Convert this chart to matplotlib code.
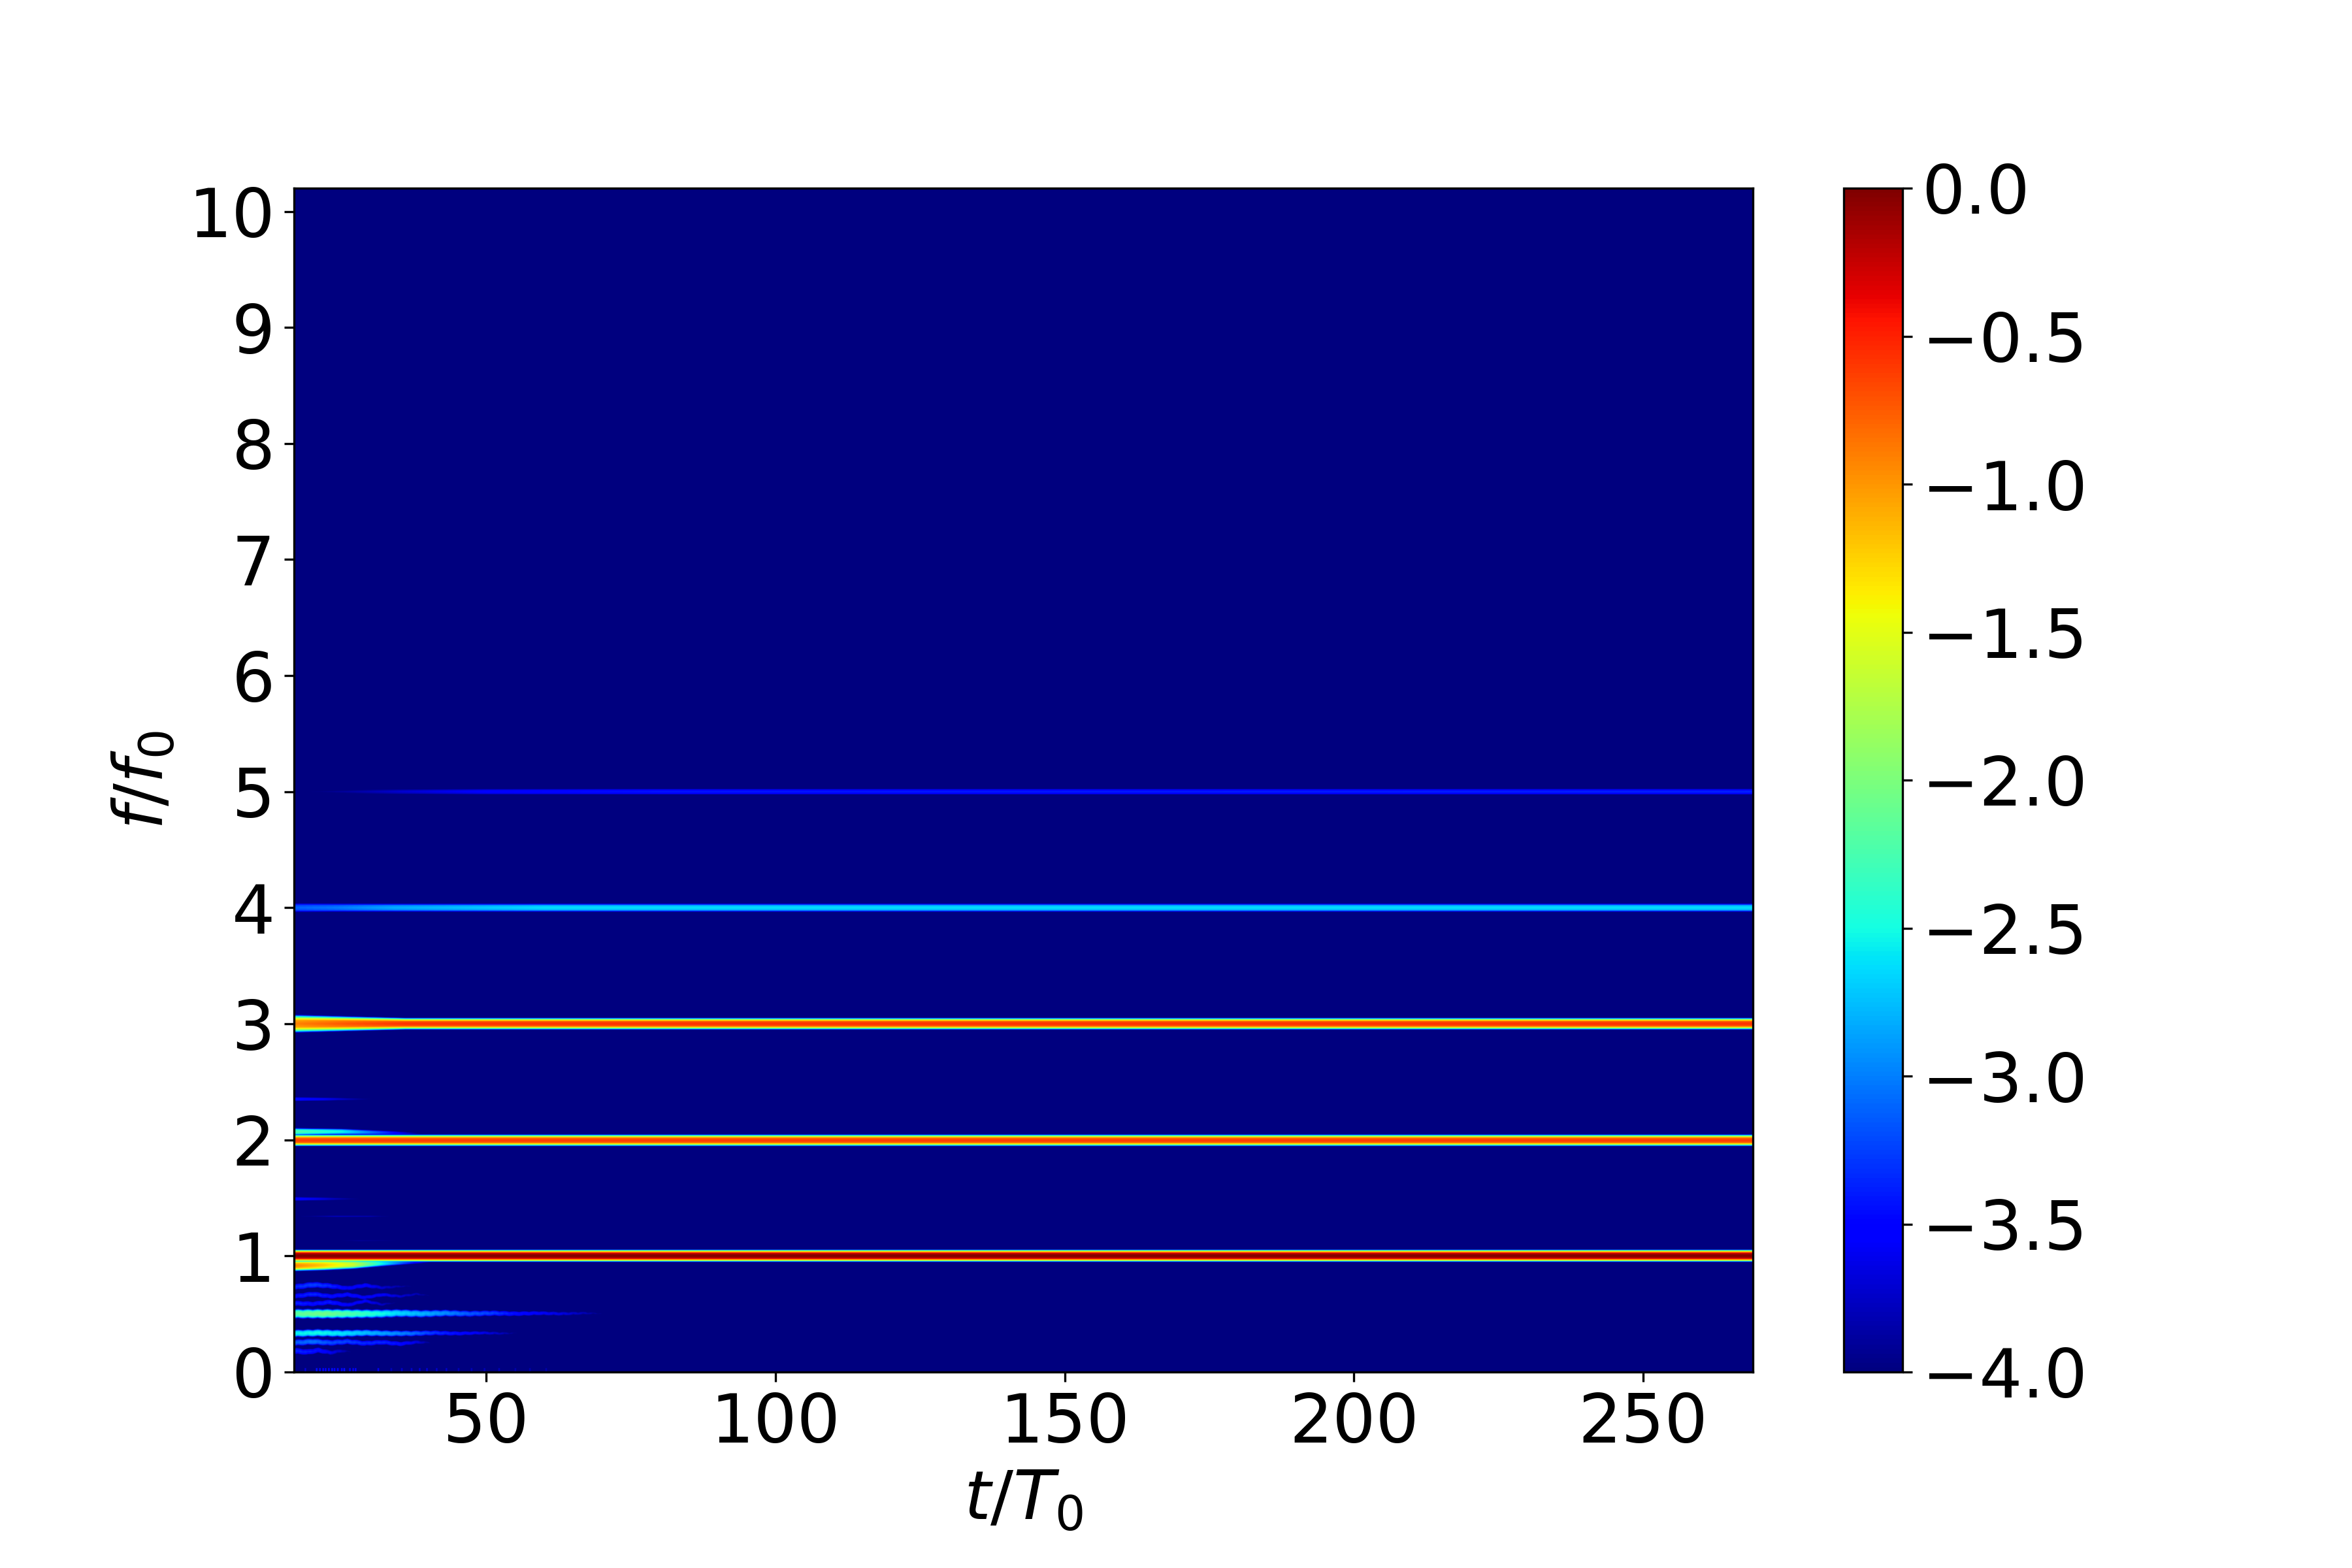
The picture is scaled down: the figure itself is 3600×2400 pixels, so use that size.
import numpy as np
import matplotlib
matplotlib.use("Agg")
import matplotlib.pyplot as plt

# Axis ranges and ticks
t_range = [16.8, 269.0]
f_range = [0.0, 10.2]
level_floor = -4.0
x_ticks = [50, 100, 150, 200, 250]
y_ticks = [0, 1, 2, 3, 4, 5, 6, 7, 8, 9, 10]
bar_ticks = [-4.0, -3.5, -3.0, -2.5, -2.0, -1.5, -1.0, -0.5, 0.0]

# Shared cross-ridge profile: offset in f/f0 against drop in log level
profile_df = [0.0, 0.017, 0.0206, 0.030, 0.039, 0.045, 0.049, 0.053, 0.070]
profile_drop = [0.0, 0.15, 0.25, 0.8, 1.6, 2.3, 3.0, 3.8, 6.0]

# Beaded texture of the sub-harmonic bands: one repeat
ripple_period = 1.7
ripple_phase = [0.0, 0.25, 0.5, 0.75, 1.0]
ripple_df = [0.0, 0.003, 0.0, -0.003, 0.0]
ripple_dl = [0.0, -0.05, 0.0, -0.05, 0.0]

# Steady harmonics: t knots, centre f, log level, width factor
h1_t = [16.8, 269]; h1_f = [1.0, 1.0]; h1_l = [0.0, 0.0]; h1_w = [1.02, 1.02]
h2_t = [16.8, 269]; h2_f = [1.995, 1.995]; h2_l = [-0.6, -0.6]; h2_w = [1.02, 1.02]
h3_t = [16.8, 26, 36, 269]; h3_f = [3.0, 3.0, 3.0, 3.0]; h3_l = [-0.9, -0.7, -0.55, -0.55]; h3_w = [1.6, 1.3, 1.02, 1.02]
h4_t = [16.8, 24, 34, 60, 269]; h4_f = [4.0] * 5; h4_l = [-3.1, -3.0, -2.8, -2.6, -2.6]; h4_w = [1.25, 1.15, 1.05, 1.0, 1.0]
h5_t = [19, 24, 35, 50, 80, 269]; h5_f = [5.0] * 6; h5_l = [-4.0, -3.9, -3.7, -3.5, -3.4, -3.35]; h5_w = [0.95, 0.95, 0.95, 0.95, 0.95, 0.95]

# Early-time shoulders
s1_t = [16.8, 22, 27, 32, 37, 41]; s1_f = [0.915, 0.92, 0.925, 0.935, 0.945, 0.95]
s1_l = [-0.9, -1.2, -1.6, -2.5, -3.3, -4.0]; s1_w = [1.0, 1.0, 0.9, 0.75, 0.6, 0.5]
s2_t = [16.8, 25, 33, 39]; s2_f = [2.07, 2.07, 2.06, 2.05]
s2_l = [-2.2, -2.5, -3.3, -4.0]; s2_w = [0.8, 0.7, 0.6, 0.5]

# Sub-harmonic side bands
b50_t = [16.8, 22, 27, 31, 35, 39, 43, 47, 51, 55, 59, 63, 67, 71]
b50_f = [0.50, 0.50, 0.50, 0.50, 0.505, 0.50, 0.505, 0.50, 0.505, 0.50, 0.505, 0.50, 0.505, 0.50]
b50_l = [-2.1, -2.0, -2.2, -2.4, -2.6, -2.75, -2.9, -3.1, -3.2, -3.4, -3.5, -3.6, -3.75, -4.0]
b50_w = [1.05, 1.05, 1.02, 1.0, 0.97, 0.95, 0.9, 0.86, 0.82, 0.78, 0.72, 0.66, 0.6, 0.55]

b33_t = [16.8, 21, 25, 29, 33, 37, 41, 45, 49, 53, 56]
b33_f = [0.33, 0.335, 0.33, 0.335, 0.33, 0.33, 0.335, 0.33, 0.335, 0.33, 0.335]
b33_l = [-2.5, -2.45, -2.55, -2.7, -2.85, -3.0, -3.25, -3.4, -3.55, -3.75, -4.0]
b33_w = [0.9, 0.9, 0.88, 0.86, 0.82, 0.78, 0.74, 0.68, 0.62, 0.55, 0.5]

b25_t = [16.8, 20, 23, 26, 29, 32, 35, 38, 41]
b25_f = [0.25, 0.26, 0.25, 0.26, 0.245, 0.255, 0.24, 0.255, 0.25]
b25_l = [-3.1, -3.0, -3.15, -3.2, -3.3, -3.3, -3.4, -3.6, -4.0]
b25_w = [0.92, 0.9, 0.88, 0.85, 0.82, 0.78, 0.75, 0.68, 0.55]

b18_t = [16.8, 19, 21, 23, 25, 27]
b18_f = [0.18, 0.17, 0.185, 0.165, 0.18, 0.17]
b18_l = [-3.3, -3.35, -3.4, -3.55, -3.7, -4.0]
b18_w = [1.0, 0.95, 0.9, 0.8, 0.7, 0.55]

b74_t = [16.8, 20, 23, 26, 29, 32, 35, 38]
b74_f = [0.73, 0.75, 0.74, 0.72, 0.745, 0.725, 0.735, 0.74]
b74_l = [-3.3, -3.2, -3.3, -3.5, -3.45, -3.65, -3.8, -4.0]
b74_w = [0.92, 0.92, 0.85, 0.78, 0.8, 0.68, 0.58, 0.5]

b66_t = [16.8, 20, 23, 26, 29, 32, 35, 38, 41]
b66_f = [0.65, 0.67, 0.65, 0.665, 0.64, 0.665, 0.65, 0.67, 0.65]
b66_l = [-3.4, -3.3, -3.4, -3.4, -3.5, -3.5, -3.65, -3.75, -4.0]
b66_w = [0.82, 0.82, 0.78, 0.78, 0.72, 0.68, 0.6, 0.55, 0.45]

b59_t = [16.8, 20, 23, 26, 29, 32, 35]
b59_f = [0.59, 0.585, 0.6, 0.575, 0.61, 0.58, 0.6]
b59_l = [-3.3, -3.4, -3.35, -3.5, -3.5, -3.7, -4.0]
b59_w = [0.85, 0.8, 0.82, 0.75, 0.7, 0.6, 0.45]

b150_t = [16.8, 21, 25, 29]; b150_f = [1.49, 1.49, 1.49, 1.49]; b150_l = [-3.45, -3.6, -3.8, -4.0]; b150_w = [0.65, 0.58, 0.5, 0.42]
b235_t = [16.8, 22, 27, 31]; b235_f = [2.35, 2.35, 2.35, 2.35]; b235_l = [-3.4, -3.55, -3.8, -4.0]; b235_w = [0.65, 0.58, 0.45, 0.4]
b134_t = [18, 24, 30, 34]; b134_f = [1.34, 1.34, 1.34, 1.34]; b134_l = [-3.95, -3.75, -3.8, -4.0]; b134_w = [0.35, 0.35, 0.35, 0.3]
b113_t = [24, 28, 32, 36]; b113_f = [1.13, 1.13, 1.13, 1.13]; b113_l = [-4.0, -3.85, -3.9, -4.0]; b113_w = [0.3, 0.3, 0.3, 0.3]

steady_ridges = [
    (h1_t, h1_f, h1_l, h1_w), (h2_t, h2_f, h2_l, h2_w), (h3_t, h3_f, h3_l, h3_w),
    (h4_t, h4_f, h4_l, h4_w), (h5_t, h5_f, h5_l, h5_w), (s1_t, s1_f, s1_l, s1_w),
    (s2_t, s2_f, s2_l, s2_w), (b150_t, b150_f, b150_l, b150_w),
    (b235_t, b235_f, b235_l, b235_w), (b134_t, b134_f, b134_l, b134_w), (b113_t, b113_f, b113_l, b113_w),
]
beaded_ridges = [
    (b50_t, b50_f, b50_l, b50_w), (b33_t, b33_f, b33_l, b33_w), (b25_t, b25_f, b25_l, b25_w),
    (b18_t, b18_f, b18_l, b18_w), (b74_t, b74_f, b74_l, b74_w), (b66_t, b66_f, b66_l, b66_w),
    (b59_t, b59_f, b59_l, b59_w),
]

# Short blue specks along the bottom edge
speck_t = [18.6, 20.5, 21.1, 21.6, 22.1, 22.6, 23.2, 23.6, 24.2, 24.8, 25.3, 26.3, 26.8, 27.3,
           31.1, 33.4, 35.2, 36.9, 38.3, 39.6, 41.2, 43.0, 45.1, 47.3, 49.6, 52.1, 54.8, 57.4, 60.2]
speck_l = [-3.7, -3.45, -3.5, -3.5, -3.5, -3.5, -3.45, -3.5, -3.5, -3.5, -3.45, -3.6, -3.6, -3.55,
           -3.6, -3.8, -3.75, -3.75, -3.7, -3.7, -3.75, -3.75, -3.8, -3.8, -3.8, -3.8, -3.85, -3.85, -3.85]
speck_top = 0.03

t_cells = np.linspace(t_range[0], t_range[1], 1800)
f_cells = np.linspace(f_range[0], f_range[1], 2400)
Z = np.full((f_cells.size, t_cells.size), level_floor - 1.0)


def add_ridge(r_t, r_f, r_l, r_w, beaded):
    first = np.searchsorted(t_cells, r_t[0])
    last = np.searchsorted(t_cells, r_t[-1])
    tt = t_cells[first:last]
    fc = np.interp(tt, r_t, r_f)
    lv = np.interp(tt, r_t, r_l)
    wd = np.interp(tt, r_t, r_w)
    if beaded:
        phase = (tt % ripple_period) / ripple_period
        fc = fc + np.interp(phase, ripple_phase, ripple_df)
        lv = lv + np.interp(phase, ripple_phase, ripple_dl)
    off = np.abs(f_cells[:, None] - fc[None, :]) / wd[None, :]
    vals = lv[None, :] - np.interp(off, profile_df, profile_drop, right=9.0)
    Z[:, first:last] = np.maximum(Z[:, first:last], vals)


for r_t, r_f, r_l, r_w in steady_ridges:
    add_ridge(r_t, r_f, r_l, r_w, False)
for r_t, r_f, r_l, r_w in beaded_ridges:
    add_ridge(r_t, r_f, r_l, r_w, True)
for s_t, s_l in zip(speck_t, speck_l):
    col = np.searchsorted(t_cells, s_t)
    Z[f_cells < speck_top, col:col + 2] = s_l

fig = plt.figure(figsize=(12, 8), dpi=300)
ax = fig.add_axes([0.125, 0.125, 0.6204, 0.755])
im = ax.imshow(Z, origin="lower", aspect="auto", cmap="jet", vmin=-4, vmax=0,
               extent=[t_range[0], t_range[1], f_range[0], f_range[1]],
               interpolation="bilinear")
ax.set_xticks(x_ticks)
ax.set_yticks(y_ticks)
ax.tick_params(labelsize=25)
ax.set_xlabel(r"$t/T_0$", fontsize=25)
ax.set_ylabel(r"$f/f_0$", fontsize=25)

cax = fig.add_axes([0.7839, 0.125, 0.0251, 0.755])
cb = fig.colorbar(im, cax=cax)
cb.set_ticks(bar_ticks)
cb.ax.tick_params(labelsize=25)

fig.savefig("out.png", dpi=300)
